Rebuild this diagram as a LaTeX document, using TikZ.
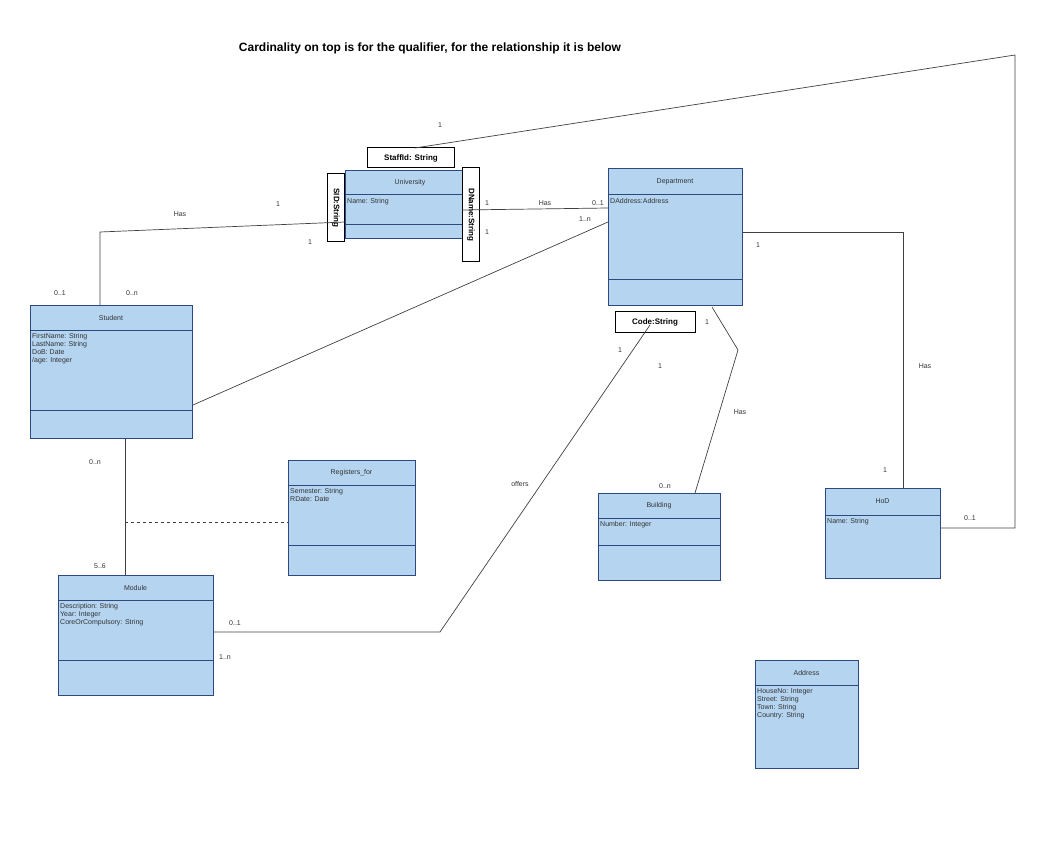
\documentclass[tikz,border=0pt]{standalone}
\usepackage{fontspec}
\setmainfont{Liberation Sans}
\definecolor{bfill}{HTML}{B4D4F0}
\definecolor{bdraw}{HTML}{2A4A80}
\begin{document}
\begin{tikzpicture}[x=1pt,y=-1pt,
  box/.style={draw=bdraw,fill=bfill,line width=1pt,inner sep=0pt,anchor=north west},
  qual/.style={draw=black,fill=white,line width=1pt,font=\bfseries\footnotesize,inner sep=1.5pt},
  lnk/.style={draw=black!75,line width=0.7pt},
  lbl/.style={font=\scriptsize,text=black!80},
  attr/.style={font=\scriptsize,align=left,anchor=north west,inner sep=1pt,text=black!80}]
\useasboundingbox (0,0) rectangle (1044,842);
\newcommand{\umlcls}[9]{%
  \node[box,minimum width=#4-#2,minimum height=#5-#3] (#1) at (#2,#3) {};
  \draw[bdraw,line width=1pt] (#2,#6) -- (#4,#6) (#2,#7) -- (#4,#7);
  \node[font=\scriptsize,text=black!80] (#1t) at ({(#2+#4)/2},{(#3+#6)/2}) {#8};
  \node[attr] (#1a) at (#2+1,#6+2) {#9};}
\node[font=\bfseries\large] (title) at (430,48) {Cardinality on top is for the qualifier, for the relationship it is below};
\umlcls{uni}{345}{170}{475}{238}{195}{225}{University}{Name: String}
\umlcls{dep}{608}{168}{742}{305}{195}{280}{Department}{DAddress:Address}
\umlcls{stu}{30}{305}{192}{438}{330}{410}{Student}{FirstName: String\\LastName: String\\DoB: Date\\/age: Integer}
\umlcls{reg}{288}{460}{415}{575}{485}{545}{Registers\_for}{Semester: String\\RDate: Date}
\umlcls{bld}{598}{493}{720}{580}{518}{545}{Building}{Number: Integer}
\umlcls{hod}{825}{488}{940}{578}{515}{578}{HoD}{Name: String}
\umlcls{mod}{58}{575}{213}{695}{600}{660}{Module}{Description: String\\Year: Integer\\CoreOrCompulsory: String}
\umlcls{adr}{755}{660}{858}{768}{685}{768}{Address}{HouseNo: Integer\\Street: String\\Town: String\\Country: String}
\node[qual,minimum width=87,minimum height=20] (staff) at (411,158) {StaffId: String};
\node[qual,minimum width=68,minimum height=17,rotate=-90] (sid) at (336,208) {SID:String};
\node[qual,minimum width=94,minimum height=17,rotate=-90] (dname) at (471,215) {DName:String};
\node[qual,minimum width=80,minimum height=20] (code) at (655,322) {Code:String};
\coordinate (c1) at (100,232);
\coordinate (c2) at (1015,55);
\coordinate (c3) at (1015,528);
\coordinate (c4) at (903,232);
\coordinate (c5) at (440,632);
\coordinate (c6) at (125,522);
\coordinate (c8) at (415,148);
\coordinate (c9) at (712,307);
\coordinate (c11) at (738,350);
\coordinate (c10) at (650,325);
\draw[lnk] (stu.north west -| c1) -- (c1) -- (sid.north |- 0,222);
\draw[lnk] (dname.south |- 0,210) -- (dep.west |- 0,208);
\draw[lnk] (stu.east |- 0,405) -- (dep.west |- 0,222);
\draw[lnk] (c8) -- (c2) -- (c3) -- (hod.east |- c3);
\draw[lnk] (dep.east |- c4) -- (c4) -- (hod.north -| c4);
\draw[lnk] (c9) -- (c11) -- (bld.north -| 695,0);
\draw[lnk] (c10) -- (c5) -- (mod.east |- c5);
\draw[lnk] (stu.south -| 125,0) -- (mod.north -| 125,0);
\draw[lnk,dashed] (c6) -- (reg.west |- c6);
\node[lbl] at (180,214) {Has};
\node[lbl] at (278,204) {1};
\node[lbl] at (310,242) {1};
\node[lbl] at (60,293) {0..1};
\node[lbl] at (132,293) {0..n};
\node[lbl] at (545,203) {Has};
\node[lbl] at (598,203) {0..1};
\node[lbl] at (585,219) {1..n};
\node[lbl] at (487,203) {1};
\node[lbl] at (487,232) {1};
\node[lbl] at (440,125) {1};
\node[lbl] at (970,518) {0..1};
\node[lbl] at (758,245) {1};
\node[lbl] at (925,366) {Has};
\node[lbl] at (885,470) {1};
\node[lbl] at (740,412) {Has};
\node[lbl] at (707,322) {1};
\node[lbl] at (665,486) {0..n};
\node[lbl] at (620,350) {1};
\node[lbl] at (660,366) {1};
\node[lbl] at (520,484) {offers};
\node[lbl] at (235,623) {0..1};
\node[lbl] at (225,657) {1..n};
\node[lbl] at (95,462) {0..n};
\node[lbl] at (100,566) {5..6};
\end{tikzpicture}
\end{document}
